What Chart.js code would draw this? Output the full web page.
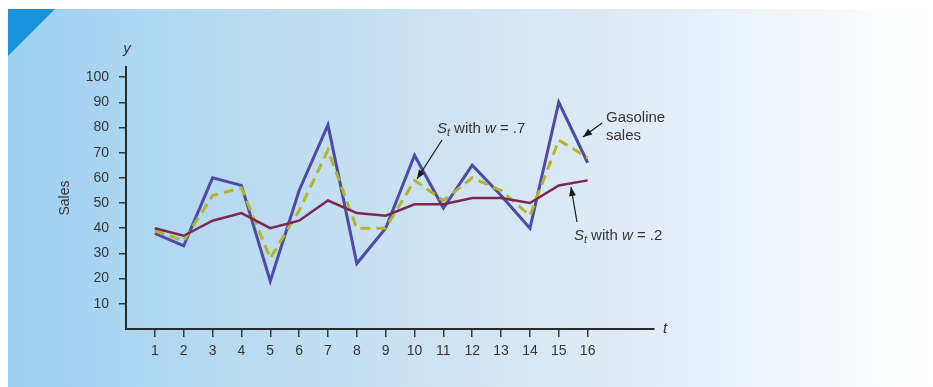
<!DOCTYPE html>
<html>
<head>
<meta charset="utf-8">
<script src="https://cdn.jsdelivr.net/npm/chart.js@4/dist/chart.umd.min.js"></script>
<style>
  html, body { margin: 0; padding: 0; background: #fff; }
  #wrap { position: relative; width: 933px; height: 387px; overflow: hidden; }
  #panel {
    position: absolute; left: 8px; top: 9px; right: 0; bottom: 0;
    background: linear-gradient(to right, #9ed0f1 0%, #b9dbf1 25%, #d0e3f2 48%, #e4eef8 72%, #f7fafd 90%, #ffffff 100%);
  }
  #corner {
    position: absolute; left: 8px; top: 9px; width: 47px; height: 47px;
    background: #1594db; clip-path: polygon(0 0, 100% 0, 0 100%);
  }
  canvas { position: absolute; left: 0; top: 0; }
</style>
</head>
<body>
<div id="wrap">
  <div id="panel"></div>
  <div id="corner"></div>
  <canvas id="chart" width="933" height="387"></canvas>
</div>
<script>
const periods = [1, 2, 3, 4, 5, 6, 7, 8, 9, 10, 11, 12, 13, 14, 15, 16];
const gasolineSales = [38, 33, 60, 57, 19, 55, 81, 26, 40, 69, 48, 65, 53, 40, 90, 66];
const smoothW7 = [39, 35, 53, 56, 28, 47, 71, 40, 40, 59, 51, 60, 55, 45, 75, 68];
const smoothW2 = [40, 37, 43, 46, 40, 43, 51, 46, 45, 49.5, 49.5, 52, 52, 50, 57, 59];
const yTicks = [10, 20, 30, 40, 50, 60, 70, 80, 90, 100];

const FONT = '"Liberation Sans", Arial, sans-serif';
const TXT = '#363636';

function pts(vals) {
  return periods.map((t, i) => ({ x: t, y: vals[i] }));
}

// S_t with w = .x
function drawSt(ctx, x, y, w) {
  ctx.textAlign = 'left';
  ctx.textBaseline = 'alphabetic';
  ctx.font = 'italic 15px ' + FONT;
  ctx.fillText('S', x, y);
  x += ctx.measureText('S').width;
  ctx.font = 'italic 11px ' + FONT;
  ctx.fillText('t', x, y + 3);
  x += ctx.measureText('t').width + 4;
  ctx.font = '15px ' + FONT;
  ctx.fillText('with ', x, y);
  x += ctx.measureText('with ').width;
  ctx.font = 'italic 15px ' + FONT;
  ctx.fillText('w', x, y);
  x += ctx.measureText('w').width;
  ctx.font = '15px ' + FONT;
  ctx.fillText(' = ' + w, x, y);
}

function arrow(ctx, x1, y1, x2, y2) {
  ctx.strokeStyle = '#1a1a1a';
  ctx.fillStyle = '#1a1a1a';
  ctx.lineWidth = 1.2;
  ctx.beginPath();
  ctx.moveTo(x1, y1);
  ctx.lineTo(x2, y2);
  ctx.stroke();
  const a = Math.atan2(y2 - y1, x2 - x1);
  const L = 9, W = 3.5;
  ctx.beginPath();
  ctx.moveTo(x2, y2);
  ctx.lineTo(x2 - L * Math.cos(a) + W * Math.sin(a), y2 - L * Math.sin(a) - W * Math.cos(a));
  ctx.lineTo(x2 - L * Math.cos(a) - W * Math.sin(a), y2 - L * Math.sin(a) + W * Math.cos(a));
  ctx.closePath();
  ctx.fill();
}

const labelsPlugin = {
  id: 'labels',
  afterDraw(chart) {
    const ctx = chart.ctx;
    const xs = chart.scales.x, ys = chart.scales.y;
    ctx.save();
    ctx.fillStyle = TXT;
    // axis names
    ctx.font = 'italic 15px ' + FONT;
    ctx.textAlign = 'center';
    ctx.textBaseline = 'middle';
    ctx.fillText('y', xs.left + 1, 49);
    ctx.fillText('t', xs.right + 11, ys.bottom);
    ctx.save();
    ctx.translate(65, 198);
    ctx.rotate(-Math.PI / 2);
    ctx.font = '14px ' + FONT;
    ctx.fillText('Sales', 0, 0);
    ctx.restore();

    // annotations
    ctx.fillStyle = TXT;
    drawSt(ctx, 437, 133, '.7');
    arrow(ctx, 442, 140, 417, 179);

    ctx.font = '15px ' + FONT;
    ctx.textAlign = 'left';
    ctx.textBaseline = 'alphabetic';
    ctx.fillStyle = TXT;
    ctx.fillText('Gasoline', 606, 122);
    ctx.fillText('sales', 606, 140);
    arrow(ctx, 602, 123, 583, 137);

    ctx.fillStyle = TXT;
    drawSt(ctx, 574, 240, '.2');
    arrow(ctx, 577, 222, 571, 187);
    ctx.restore();
  }
};

new Chart(document.getElementById('chart'), {
  type: 'line',
  data: {
    datasets: [
      {
        label: 'St with w = .2',
        data: pts(smoothW2),
        borderColor: '#7b2851',
        borderWidth: 2.5,
        pointRadius: 0,
        tension: 0
      },
      {
        label: 'St with w = .7',
        data: pts(smoothW7),
        borderColor: '#b3b52c',
        borderWidth: 3,
        borderDash: [10, 6],
        pointRadius: 0,
        tension: 0
      },
      {
        label: 'Gasoline sales',
        data: pts(gasolineSales),
        borderColor: '#4e4aa6',
        borderWidth: 3,
        pointRadius: 0,
        tension: 0
      }
    ]
  },
  options: {
    responsive: false,
    animation: false,
    layout: { padding: { left: 0, right: 279, top: 67, bottom: 0 } },
    plugins: { legend: { display: false }, tooltip: { enabled: false } },
    scales: {
      x: {
        type: 'linear',
        min: 0,
        max: 18.3,
        afterBuildTicks(scale) { scale.ticks = periods.map(v => ({ value: v })); },
        afterFit(scale) { scale.height = 58; },
        ticks: { color: TXT, font: { family: FONT, size: 14 }, padding: 6, maxRotation: 0, autoSkip: false },
        grid: { drawOnChartArea: false, tickLength: 8, color: '#3a3a3a', lineWidth: 1.5 },
        border: { display: true, color: '#2a2a2a', width: 2 }
      },
      y: {
        min: 0,
        max: 104,
        afterBuildTicks(scale) { scale.ticks = yTicks.map(v => ({ value: v })); },
        afterFit(scale) { scale.width = 126; },
        ticks: { color: TXT, font: { family: FONT, size: 14 }, padding: 10 },
        grid: { drawOnChartArea: false, tickLength: 7, color: '#3a3a3a', lineWidth: 1.5 },
        border: { display: true, color: '#2a2a2a', width: 2 }
      }
    }
  },
  plugins: [labelsPlugin]
});
</script>
</body>
</html>
